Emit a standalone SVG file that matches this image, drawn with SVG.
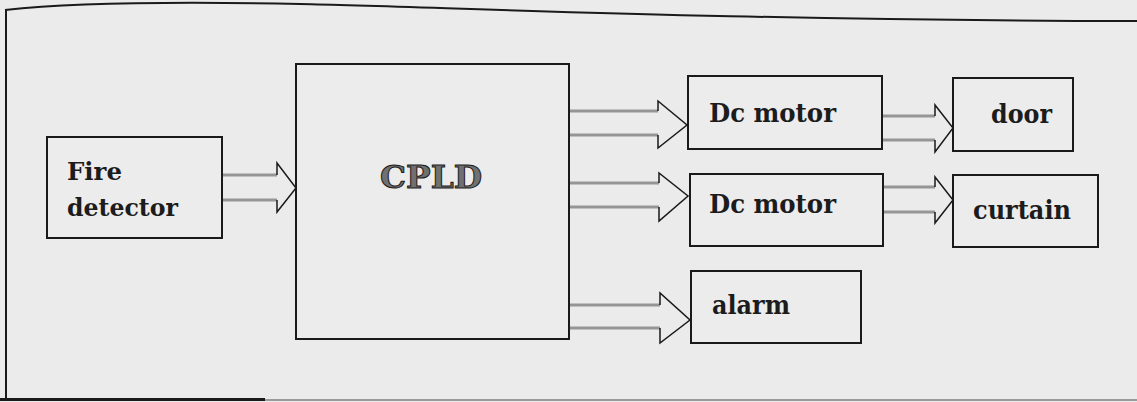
<svg xmlns="http://www.w3.org/2000/svg" width="1137" height="402" viewBox="0 0 1137 402">
<style>
.box{fill:#ececec;stroke:#1a1a1a;stroke-width:2}
.lbl{font-family:"DejaVu Serif","Liberation Serif",serif;font-weight:bold;fill:#1c1c1c}
.cpld{font-family:"DejaVu Serif","Liberation Serif",serif;font-weight:bold;fill:#707070;stroke:#1a1a1a;stroke-width:1}
.shaft{stroke:#959595;stroke-width:3;fill:none}
.head{fill:none;stroke:#1a1a1a;stroke-width:1.5;stroke-linejoin:miter}
.frame{fill:none;stroke:#1a1a1a;stroke-width:2}
</style>
<rect x="0" y="0" width="1137" height="402" fill="#ebebeb"/>
<g id="frame">
<path class="frame" d="M5,10 C60,4 150,1 300,4 S700,20 1137,21"/>
<line class="frame" x1="6" y1="9" x2="6" y2="399"/>
<line x1="0" y1="399.5" x2="265" y2="399.5" stroke="#1a1a1a" stroke-width="3"/>
<line x1="265" y1="400" x2="1137" y2="400" stroke="#9a9a9a" stroke-width="2"/>
</g>
<g id="connectors">
<g id="c-fire-cpld">
<line class="shaft" x1="222" y1="175" x2="277" y2="175"/>
<line class="shaft" x1="222" y1="200" x2="277" y2="200"/>
<polyline class="head" points="277,175 277,163 296,188 277,212 277,200"/>
</g>
<g id="c-cpld-motor1">
<line class="shaft" x1="569" y1="111" x2="658" y2="111"/>
<line class="shaft" x1="569" y1="135" x2="658" y2="135"/>
<polyline class="head" points="658,111 658,101 687,125 658,148 658,135"/>
</g>
<g id="c-cpld-motor2">
<line class="shaft" x1="569" y1="183" x2="659" y2="183"/>
<line class="shaft" x1="569" y1="207" x2="659" y2="207"/>
<polyline class="head" points="659,183 659,173 688,196 659,221 659,207"/>
</g>
<g id="c-cpld-alarm">
<line class="shaft" x1="569" y1="305" x2="660" y2="305"/>
<line class="shaft" x1="569" y1="328" x2="660" y2="328"/>
<polyline class="head" points="660,305 660,293 690,320 660,343 660,328"/>
</g>
<g id="c-motor1-door">
<line class="shaft" x1="882" y1="116" x2="935" y2="116"/>
<line class="shaft" x1="882" y1="140" x2="935" y2="140"/>
<polyline class="head" points="935,116 935,105 953,128 935,152 935,140"/>
</g>
<g id="c-motor2-curtain">
<line class="shaft" x1="883" y1="187" x2="935" y2="187"/>
<line class="shaft" x1="883" y1="212" x2="935" y2="212"/>
<polyline class="head" points="935,187 935,177 953,200 935,223 935,212"/>
</g>
</g>
<g id="fire-detector">
<rect class="box" x="47" y="137" width="175" height="101"/>
<text class="lbl" x="67" y="180" font-size="25" textLength="55" lengthAdjust="spacingAndGlyphs">Fire</text>
<text class="lbl" x="67" y="216" font-size="25" textLength="111" lengthAdjust="spacingAndGlyphs">detector</text>
</g>
<g id="cpld">
<rect class="box" x="296" y="64" width="273" height="275"/>
<text class="cpld" x="380" y="188" font-size="32" textLength="102" lengthAdjust="spacingAndGlyphs">CPLD</text>
</g>
<g id="dc-motor-1">
<rect class="box" x="688" y="76" width="194" height="73"/>
<text class="lbl" x="709" y="122" font-size="26.5" textLength="127" lengthAdjust="spacingAndGlyphs">Dc motor</text>
</g>
<g id="dc-motor-2">
<rect class="box" x="690" y="174" width="193" height="72"/>
<text class="lbl" x="709" y="213" font-size="26.5" textLength="127" lengthAdjust="spacingAndGlyphs">Dc motor</text>
</g>
<g id="alarm">
<rect class="box" x="691" y="271" width="170" height="72"/>
<text class="lbl" x="712" y="314" font-size="26.5" textLength="78" lengthAdjust="spacingAndGlyphs">alarm</text>
</g>
<g id="door">
<rect class="box" x="953" y="78" width="120" height="73"/>
<text class="lbl" x="991" y="123" font-size="26.5" textLength="61" lengthAdjust="spacingAndGlyphs">door</text>
</g>
<g id="curtain">
<rect class="box" x="953" y="175" width="145" height="72"/>
<text class="lbl" x="973" y="219" font-size="26.5" textLength="98" lengthAdjust="spacingAndGlyphs">curtain</text>
</g>
</svg>
